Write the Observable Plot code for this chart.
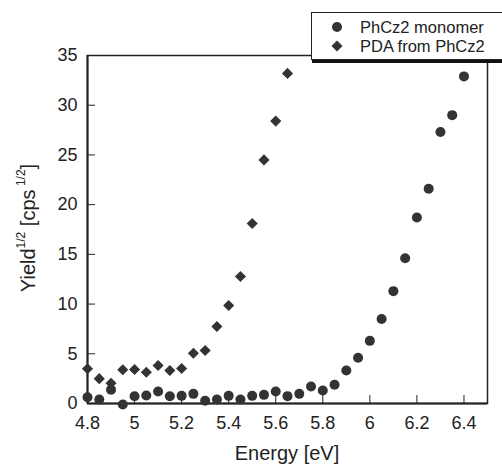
<!DOCTYPE html>
<html><head><meta charset="utf-8">
<script src="https://cdn.jsdelivr.net/npm/d3@7"></script>
<script src="https://cdn.jsdelivr.net/npm/@observablehq/plot@0.6"></script>
<style>
html,body{margin:0;padding:0;background:#fff;overflow:hidden}
#wrap{position:relative;width:502px;height:465px;font-family:"Liberation Sans",Arial,sans-serif;overflow:hidden}
#legend{position:absolute;left:311px;top:12px;width:210px;height:48px;background:#fff;border:1px solid #222;box-shadow:1px 3px 0 #111;box-sizing:border-box}
.row{position:absolute;left:0;height:16px;font-size:16.5px;line-height:16px;color:#222;white-space:nowrap}
.row svg{position:absolute;left:18px;top:1px}
.row span{position:absolute;left:48px;top:0}
</style>
</head><body>
<div id="wrap"></div>
<script>
const energy = [4.8, 4.85, 4.9, 4.95, 5.0, 5.05, 5.1, 5.15, 5.2, 5.25, 5.3, 5.35, 5.4, 5.45, 5.5, 5.55, 5.6, 5.65, 5.7, 5.75, 5.8, 5.85, 5.9, 5.95, 6.0, 6.05, 6.1, 6.15, 6.2, 6.25, 6.3, 6.35, 6.4];
const monomerYield = [0.63, 0.4, 1.38, -0.1, 0.73, 0.8, 1.2, 0.73, 0.77, 0.97, 0.27, 0.4, 0.77, 0.4, 0.77, 0.87, 1.2, 0.74, 0.97, 1.71, 1.31, 1.88, 3.32, 4.6, 6.3, 8.5, 11.3, 14.6, 18.7, 21.6, 27.3, 29.0, 32.9];
const pdaEnergy = [4.8, 4.85, 4.9, 4.95, 5.0, 5.05, 5.1, 5.15, 5.2, 5.25, 5.3, 5.35, 5.4, 5.45, 5.5, 5.55, 5.6, 5.65];
const pdaYield = [3.49, 2.5, 2.04, 3.39, 3.42, 3.15, 3.82, 3.32, 3.52, 5.06, 5.33, 7.75, 9.86, 12.78, 18.1, 24.5, 28.4, 33.2];
const seriesNames = ["PhCz2 monomer", "PDA from PhCz2"];
const xTicks = [4.8, 5.0, 5.2, 5.4, 5.6, 5.8, 6.0, 6.2, 6.4];
const xTickLabels = ["4.8", "5", "5.2", "5.4", "5.6", "5.8", "6", "6.2", "6.4"];
const yTicks = [0, 5, 10, 15, 20, 25, 30, 35];
const yTickLabels = ["0", "5", "10", "15", "20", "25", "30", "35"];

const monomer = energy.map((e, i) => ({e, v: monomerYield[i]}));
const pda = pdaEnergy.map((e, i) => ({e, v: pdaYield[i]}));
const xLab = new Map(xTicks.map((t, i) => [t, xTickLabels[i]]));
const yLab = new Map(yTicks.map((t, i) => [t, yTickLabels[i]]));

const ink = "#222";
const markerColor = "#333";

const chart = Plot.plot({
  width: 502, height: 465,
  marginLeft: 87, marginRight: 15, marginTop: 55, marginBottom: 62,
  style: {fontFamily: "'Liberation Sans', Arial, sans-serif", fontSize: "18px", color: ink, background: "#fff", overflow: "visible"},
  x: {domain: [4.8, 6.5]},
  y: {domain: [0, 35]},
  marks: [
    Plot.frame({stroke: ink, strokeWidth: 1.5}),
    Plot.ruleX([4.8], {stroke: ink, strokeWidth: 2}),
    Plot.ruleY([0], {stroke: ink, strokeWidth: 2}),
    Plot.axisX(xTicks, {tickSize: -8, tickPadding: 21, tickFormat: d => xLab.get(d), label: null, stroke: ink}),
    Plot.axisY(yTicks, {tickSize: -8, tickPadding: 18, tickFormat: d => yLab.get(d), label: null, stroke: ink}),
    Plot.dot(monomer, {x: "e", y: "v", r: 5, fill: markerColor, symbol: "circle"}),
    Plot.dot(pda, {x: "e", y: "v", r: 5, fill: markerColor, symbol: "diamond2"})
  ]
});
document.getElementById("wrap").appendChild(chart);

const svg = d3.select(chart);
svg.append("text")
  .attr("x", 287).attr("y", 460)
  .attr("text-anchor", "middle")
  .attr("font-size", 20).attr("fill", ink)
  .text("Energy [eV]");

const yl = svg.append("text")
  .attr("transform", "translate(35,228) rotate(-90)")
  .attr("text-anchor", "middle")
  .attr("font-size", 20).attr("fill", ink);
yl.append("tspan").text("Yield");
yl.append("tspan").attr("font-size", 12).attr("dy", -10).text("1/2");
yl.append("tspan").attr("dy", 10).text(" [cps");
yl.append("tspan").attr("font-size", 12).attr("dy", -10).text(" 1/2");
yl.append("tspan").attr("dy", 10).text("]");

// legend
const legend = document.createElement("div");
legend.id = "legend";
const symbols = [
  '<svg width="14" height="14"><circle cx="7" cy="7" r="5" fill="' + markerColor + '"/></svg>',
  '<svg width="14" height="14"><path d="M7,1.5L12.5,7L7,12.5L1.5,7Z" fill="' + markerColor + '"/></svg>'
];
seriesNames.forEach((name, i) => {
  const row = document.createElement("div");
  row.className = "row";
  row.style.top = (6 + i * 18.5) + "px";
  row.innerHTML = symbols[i] + "<span>" + name + "</span>";
  legend.appendChild(row);
});
document.getElementById("wrap").appendChild(legend);
</script>
</body></html>
